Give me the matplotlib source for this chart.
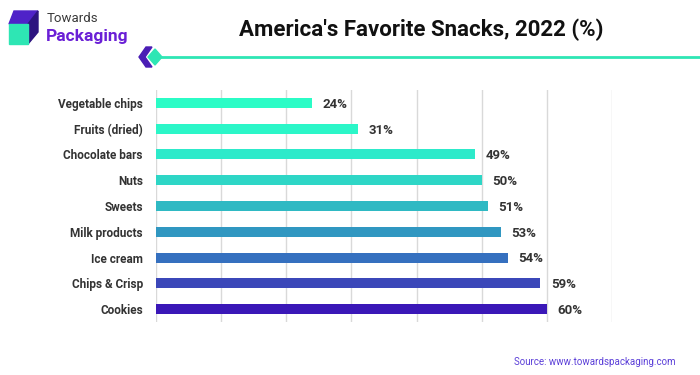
import matplotlib
matplotlib.use("Agg")
import matplotlib.pyplot as plt
from matplotlib.patches import Polygon

categories = ["Vegetable chips", "Fruits (dried)", "Chocolate bars", "Nuts", "Sweets",
              "Milk products", "Ice cream", "Chips & Crisp", "Cookies"]
values = [24, 31, 49, 50, 51, 53, 54, 59, 60]
colors = ["#2BFCC6", "#2BF6C8", "#2DEACA", "#2ED6C6", "#2FB9C3",
          "#3097C1", "#3570BF", "#3B47B9", "#3A17B7"]
xticks = [0, 10, 20, 30, 40, 50, 60, 70]

FONT = ["Roboto", "DejaVu Sans"]
plt.rcParams["font.family"] = FONT

W, H = 700, 375
fig = plt.figure(figsize=(7, 3.75), dpi=100)
fig.patch.set_facecolor("white")

# overlay axes in pixel coords
ov = fig.add_axes([0, 0, 1, 1])
ov.set_xlim(0, W)
ov.set_ylim(H, 0)
ov.axis("off")

# logo icon
ov.add_patch(Polygon([(9, 24), (14, 11), (38, 11), (28, 24)], closed=True, color="#4F22C8"))
ov.add_patch(Polygon([(28, 24), (38, 11), (38, 32), (28, 44)], closed=True, color="#2D1480"))
ov.add_patch(Polygon([(9, 24), (28, 24), (28, 44), (9, 44)], closed=True, color="#2EE6B4"))
ov.text(47, 18, "Towards", fontsize=9.5, color="#3a3a3a", va="center", ha="left")
ov.text(46, 36, "Packaging", fontsize=12.5, color="#6A1FD6", fontweight="bold", va="center", ha="left")

# title
ov.text(421, 30, "America's Favorite Snacks, 2022 (%)", fontsize=16, fontweight="bold",
        color="#111111", ha="center", va="center")

# decorative line and chevrons
ov.plot([160, 700], [57, 57], color="#2EE6B4", lw=2, solid_capstyle="butt")
ov.add_patch(Polygon([(146, 47), (152, 47), (145, 57), (152, 67), (146, 67), (139, 57)],
                     closed=True, color="#4A1DB5"))
ov.add_patch(Polygon([(155, 49), (162, 57), (155, 65), (148, 57)], closed=True, color="#2EE6B4"))

# source
ov.text(676, 362, "Source: www.towardspackaging.com", fontsize=7, color="#5B3FD8",
        ha="right", va="center")

# main chart
ax = fig.add_axes([156 / W, 1 - 322 / H, (612 - 156) / W, 232 / H])
y = list(range(len(categories)))
ax.barh(y, values, height=0.39, color=colors, zorder=3)
ax.set_xlim(0, 70)
ax.set_ylim(len(categories) - 0.5, -0.5)
ax.set_xticks(xticks)
ax.xaxis.grid(True, color="#d9d9d9", lw=1, zorder=0)
ax.tick_params(axis="x", length=0, labelbottom=False)
ax.tick_params(axis="y", length=0, pad=9.5)
ax.set_yticks(y)
ax.set_yticklabels(categories, fontsize=8.5, fontweight=600, color="#333333")
for s in ax.spines.values():
    s.set_visible(False)
for yi, v in zip(y, values):
    ax.annotate(f"{v}%", (v, yi), xytext=(7.5, -1), textcoords="offset points",
                va="center", ha="left", fontsize=9.5, fontweight=600, color="#333333")

fig.savefig("out.png", dpi=100, facecolor="white")
